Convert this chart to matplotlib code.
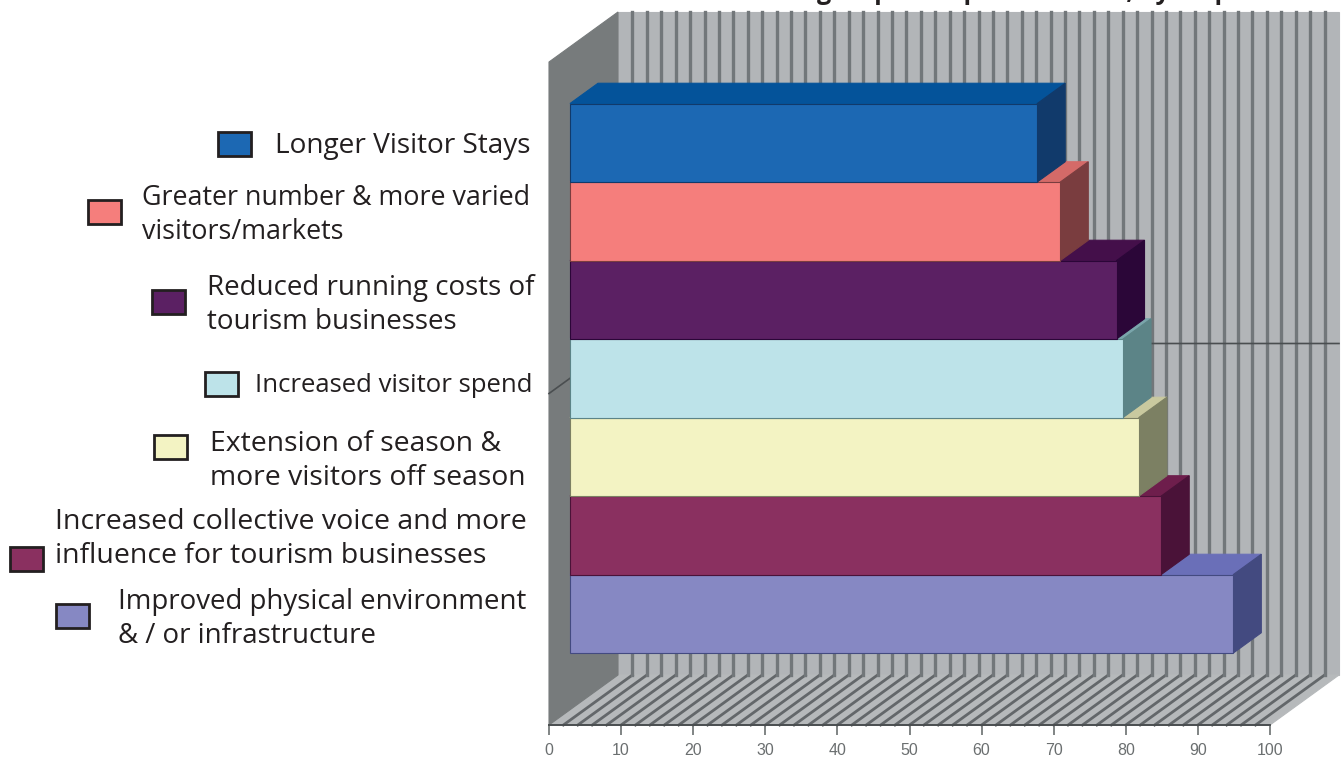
import matplotlib
matplotlib.use('Agg')
import matplotlib.pyplot as plt
from matplotlib.patches import Polygon, Rectangle

W = 1343
H = 758

# one group of stacked-looking bars, top bar first
categories = ['Longer Visitor Stays',
              'Greater number & more varied\nvisitors/markets',
              'Reduced running costs of\ntourism businesses',
              'Increased visitor spend',
              'Extension of season &\nmore visitors off season',
              'Increased collective voice and more\ninfluence for tourism businesses',
              'Improved physical environment\n& / or infrastructure']
values = [64.8, 68, 75.8, 76.7, 78.9, 82, 92]
x_ticks = [0, 10, 20, 30, 40, 50, 60, 70, 80, 90, 100]

front_colors = ['#1c68b3', '#f57e7c', '#5b2063', '#bde3e9', '#f3f3c3', '#8a3060', '#8688c3']
top_colors = ['#04539a', '#d46a68', '#440f4a', '#7aa5ab', '#c9c99f', '#6e1e4c', '#6a6fb8']
side_colors = ['#113a6b', '#7a3d3f', '#2b0638', '#5c8487', '#7c8063', '#4a1238', '#434a80']

# legend layout in pixels: swatch left, swatch top, text left, text centre, font size
legend_pos = [(218, 132, 275, 146, 20.2),
              (88, 200, 142, 215, 19.4),
              (152, 290, 207, 305, 20),
              (205, 372, 255, 386, 18.5),
              (154, 435, 210, 461, 20.4),
              (10, 547, 55, 539, 20.5),
              (56, 604, 118, 619, 19.9)]

plt.rcParams['font.family'] = ['Open Sans', 'DejaVu Sans']

fig = plt.figure(figsize=(W / 100, H / 100), dpi=100)
ax = fig.add_axes([549 / W, 1 - 725 / H, (1270 - 549) / W, (725 - 62) / H])

# y runs downward, one unit per bar
ax.set_xlim(0, 100)
units = 663 / 78.5
ax.set_ylim(3 + units / 2, 3 - units / 2)
y_low, y_high = ax.get_ylim()

# depth of the box in data units
DX = 69 / 7.21
DY = 50 / 78.5
BAR_D0 = 21 / 69
BAR_D1 = 49 / 69


def pt(x, y, d):
    return (x + d * DX, y - d * DY)


def face(points, color, edge=None, z=1, lw=0.8):
    ax.add_patch(Polygon(points, closed=True, facecolor=color, edgecolor=edge or color,
                         linewidth=lw, zorder=z, clip_on=False))


# walls and floor
face([pt(0, y_high, 1), pt(100, y_high, 1), pt(100, y_low, 1), pt(0, y_low, 1)], '#b2b5b8', z=1)
face([pt(0, y_low, 0), pt(100, y_low, 0), pt(100, y_low, 1), pt(0, y_low, 1)], '#b6b9bb', z=1)
face([pt(0, y_high, 0), pt(0, y_high, 1), pt(0, y_low, 1), pt(0, y_low, 0)], '#777b7c', z=2)

# grid every 2 units on the back wall and floor, the last band stays plain
for g in range(2, 100, 2):
    x0, y0 = pt(g, y_low, 0)
    x1, y1 = pt(g, y_low, 1)
    x2, y2 = pt(g, y_high, 1)
    ax.plot([x0, x1], [y0, y1], color='#63676a', lw=2.0, zorder=1.5, clip_on=False)
    ax.plot([x1, x2], [y1, y2], color='#72777a', lw=2.4, zorder=1.5, clip_on=False)

# centre line of the single category
xa, ya = pt(0, 3, 0)
xb, yb = pt(0, 3, 1)
xc, yc = pt(100, 3, 1)
ax.plot([xa, xb, xc], [ya, yb, yc], color='#4a4e50', lw=1.2, zorder=2.5, clip_on=False)

# paint from the bottom bar upward so upper bars hide the tops below them
for i in range(len(values) - 1, -1, -1):
    v = values[i]
    z = 3 + (len(values) - i) * 0.1
    face([pt(0, i - 0.5, BAR_D0), pt(v, i - 0.5, BAR_D0), pt(v, i - 0.5, BAR_D1), pt(0, i - 0.5, BAR_D1)],
         top_colors[i], z=z)
    face([pt(v, i - 0.5, BAR_D0), pt(v, i - 0.5, BAR_D1), pt(v, i + 0.5, BAR_D1), pt(v, i + 0.5, BAR_D0)],
         side_colors[i], z=z)
    ax.barh(i - BAR_D0 * DY, v, height=1, left=BAR_D0 * DX, color=front_colors[i],
            edgecolor=side_colors[i], linewidth=0.8, zorder=z + 0.01, clip_on=False)

for s in ['top', 'left', 'right']:
    ax.spines[s].set_visible(False)
ax.spines['bottom'].set_color('#4a4e50')
ax.spines['bottom'].set_linewidth(1.4)
ax.spines['bottom'].set_zorder(2.6)
ax.patch.set_visible(False)
ax.set_yticks([])
ax.set_xticks(x_ticks)
ax.tick_params(axis='x', length=7, width=1.2, color='#6b6f70', pad=6)
for lab in ax.get_xticklabels():
    lab.set_family('Liberation Sans')
    lab.set_fontsize(11.5)
    lab.set_color('#6b6f70')

# legend by hand, each entry sits beside its own swatch
for name, col, (sx, sy, tx, ty, size) in zip(categories, front_colors, legend_pos):
    fig.add_artist(Rectangle((sx / W, 1 - (sy + 24) / H), 33 / W, 24 / H, transform=fig.transFigure,
                             facecolor=col, edgecolor='#231f20', linewidth=2))
    fig.text(tx / W, 1 - ty / H, name, fontsize=size, color='#231f20', ha='left', va='center',
             linespacing=1.3)

# heading runs off the top edge, only its descenders show
fig.text(817 / W, 1 + 1 / H, 'group-level performance, by respondent', fontsize=18, fontweight='bold',
         color='#231f20', ha='left', va='baseline')

fig.savefig('out.png', dpi=100)
